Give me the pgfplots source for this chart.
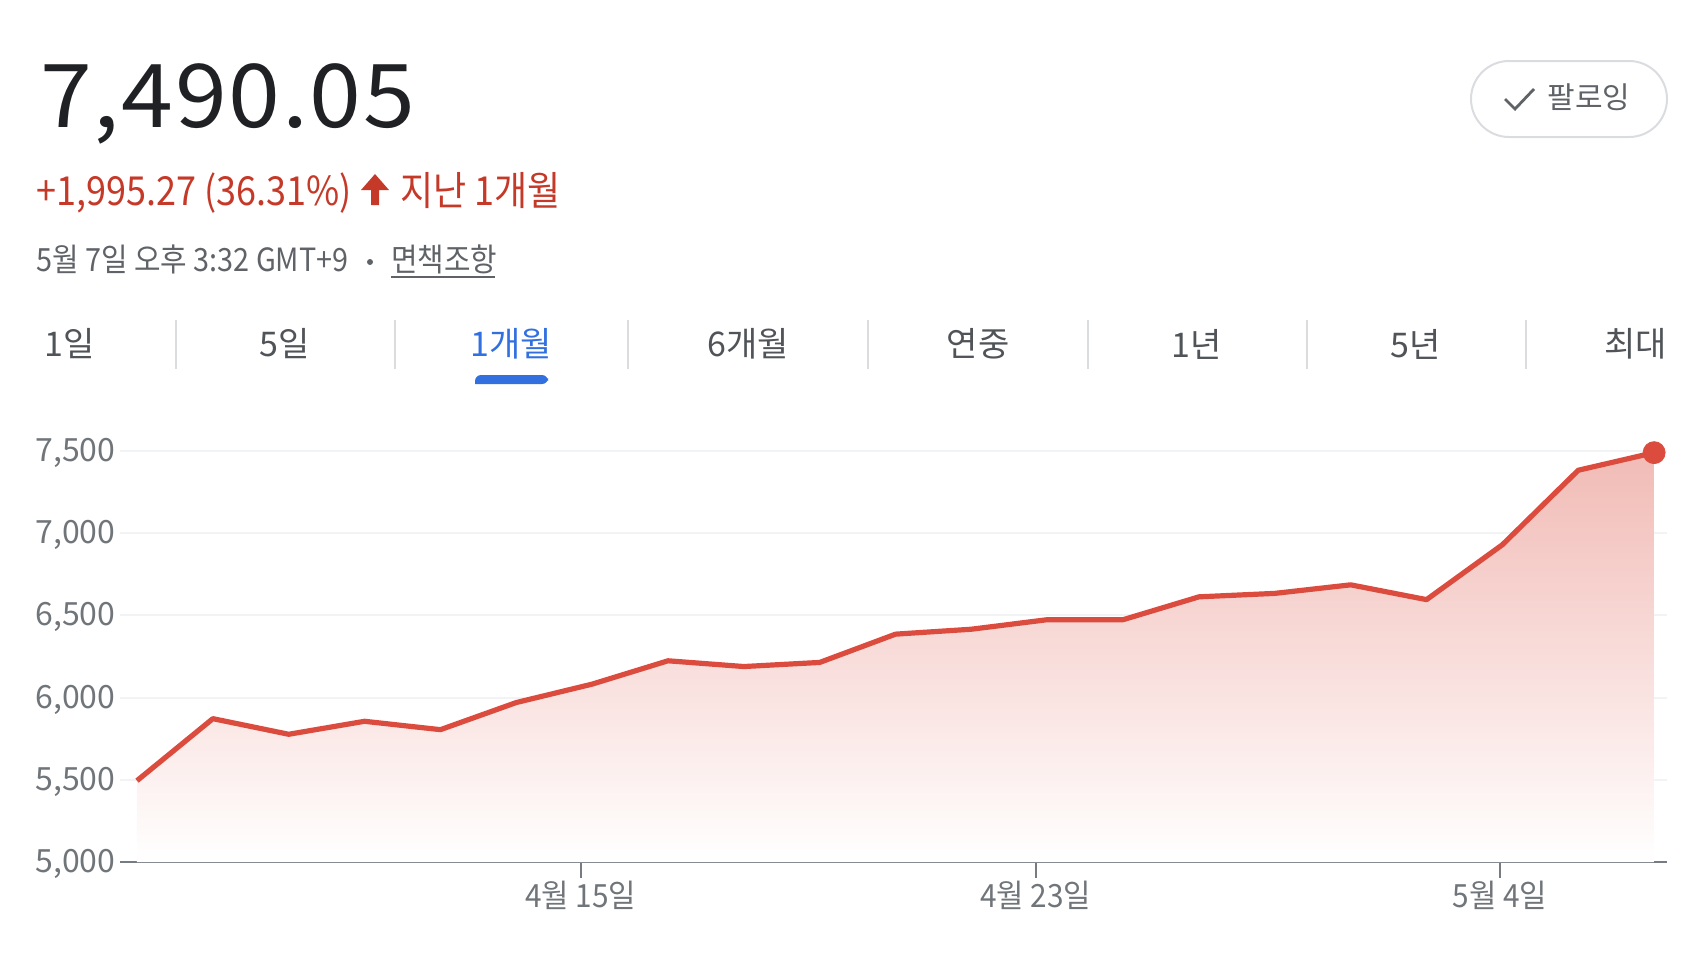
\documentclass[border=0pt]{standalone}
\usepackage{fontspec}
\setmainfont{Noto Sans CJK KR}
\newfontfamily\narrow[FakeStretch=0.9]{Noto Sans CJK KR}
\newfontfamily\ticknarrow[FakeStretch=0.93]{Noto Sans CJK KR}
\newfontfamily\bignum[FakeStretch=1.06,LetterSpace=2]{Noto Sans CJK KR}
\usepackage{pgfplots}
\pgfplotsset{compat=1.18}
\definecolor{lred}{RGB}{219,76,62}
\definecolor{tred}{RGB}{197,57,41}
\definecolor{tgray}{RGB}{95,99,104}
\definecolor{tabgray}{RGB}{80,84,88}
\definecolor{lgray}{RGB}{112,117,122}
\definecolor{dark}{RGB}{32,33,36}
\definecolor{gblue}{RGB}{50,112,224}
\definecolor{gridc}{RGB}{241,243,244}
\definecolor{axisgray}{RGB}{118,124,129}
\definecolor{divgray}{RGB}{218,220,224}
\pgfplotstableread{
x y
0 5494.78
1 5872
2 5777
3 5856
4 5805
5 5970
6 6082
7 6224
8 6189
9 6214
10 6386
11 6416
12 6474
13 6474
14 6613
15 6634
16 6686
17 6596
18 6930
19 7383
20 7490.05
}\prices
\newcommand{\fs}[1]{\fontsize{#1}{#1}\selectfont}
\begin{document}
\begin{tikzpicture}
\begin{scope}[x=0.5pt,y=-0.5pt]
\useasboundingbox (0,0) rectangle (1708,954);
% big value
\node[anchor=base west,inner sep=0pt,text=dark,font=\bignum\fs{44pt}] at (40,127) {7,490.05};
% change line
\node[anchor=base west,inner sep=0pt,text=tred,font=\narrow\fs{20pt}] at (36,205) {+1,995.27 (36.31\%)};
\fill[tred] (371,205) -- (371,190) -- (361,190) -- (375,174) -- (389,190) -- (379,190) -- (379,205) -- cycle;
\node[anchor=base west,inner sep=0pt,text=tred,font=\narrow\fs{20pt}] at (400,205) {지난 1개월};
% date line
\node[anchor=base west,inner sep=0pt,text=tgray,font=\narrow\fs{16pt}] at (36,271) {5월 7일 오후 3:32 GMT+9};
\fill[tgray] (370,262) circle (3);
\node[anchor=base west,inner sep=0pt,text=tgray,font=\narrow\fs{16pt}] at (391,271) {면책조항};
\draw[tgray,line width=0.8pt] (391,277) -- (495,277);
% follow button
\draw[divgray,line width=1pt,rounded corners=19pt] (1471,61) rectangle (1667,137);
\draw[tgray,line width=1.4pt] (1505,99) -- (1515,109) -- (1534,89);
\node[anchor=center,inner sep=0pt,text=tgray,font=\fs{15pt}] at (1589,97) {팔로잉};
% tabs
\foreach \xx in {176,395,628,868,1088,1307,1526}{\draw[divgray,line width=0.8pt] (\xx,320) -- (\xx,369);}
\node[anchor=west,inner sep=0pt,text=tabgray,font=\fs{17pt}] at (44,344) {1일};
\node[anchor=center,inner sep=0pt,text=tabgray,font=\fs{17pt}] at (285,344) {5일};
\node[anchor=center,inner sep=0pt,text=gblue,font=\fs{17pt}] at (511,344) {1개월};
\node[anchor=center,inner sep=0pt,text=tabgray,font=\fs{17pt}] at (748,344) {6개월};
\node[anchor=center,inner sep=0pt,text=tabgray,font=\fs{17pt}] at (978,344) {연중};
\node[anchor=center,inner sep=0pt,text=tabgray,font=\fs{17pt}] at (1197,344) {1년};
\node[anchor=center,inner sep=0pt,text=tabgray,font=\fs{17pt}] at (1416,344) {5년};
\node[anchor=east,inner sep=0pt,text=tabgray,font=\fs{17pt}] at (1667,344) {최대};
\fill[gblue,rounded corners=3pt] (475,384) -- (475,375) -- (548,375) -- (548,384) [sharp corners] -- cycle;
\end{scope}
\begin{axis}[
  at={(60pt,-431pt)}, anchor=south west,
  scale only axis, width=773.5pt, height=205.5pt,
  xmin=-0.224, xmax=20.17, ymin=5000, ymax=7500,
  axis lines*=left,
  x axis line style={-, draw=axisgray, line width=1pt},
  y axis line style={draw=none},
  ytick={5000,5500,6000,6500,7000,7500},
  xtick={5.85,11.85,17.97},
  xticklabels={4월 15일, 4월 23일, 5월 4일},
  ymajorgrids, major grid style={draw=gridc, line width=1pt},
  tick align=outside,
  xtick style={draw=axisgray, line width=0.8pt},
  ytick style={draw=none},
  major tick length=8pt,
  yticklabel style={anchor=west, xshift=-34.5pt, yshift=-1pt, inner sep=0pt, font=\fs{16pt}, text=lgray},
  xticklabel style={anchor=base, yshift=-14.5pt, inner sep=0pt, font=\ticknarrow\fs{16pt}, text=lgray},
  /pgf/number format/assume math mode=true,
  /pgf/number format/1000 sep={,},
  scaled y ticks=false,
  clip=false,
]
\addplot[draw=none, top color=lred!38!white, middle color=lred!9!white, bottom color=white, forget plot] table[x=x,y=y] {\prices} \closedcycle;
\addplot[lred, line width=2.6pt, line join=round, mark=none] table[x=x,y=y] {\prices};
\addplot[only marks, mark=*, mark size=5.5pt, lred] coordinates {(20,7490.05)};
\end{axis}
\end{tikzpicture}
\end{document}
